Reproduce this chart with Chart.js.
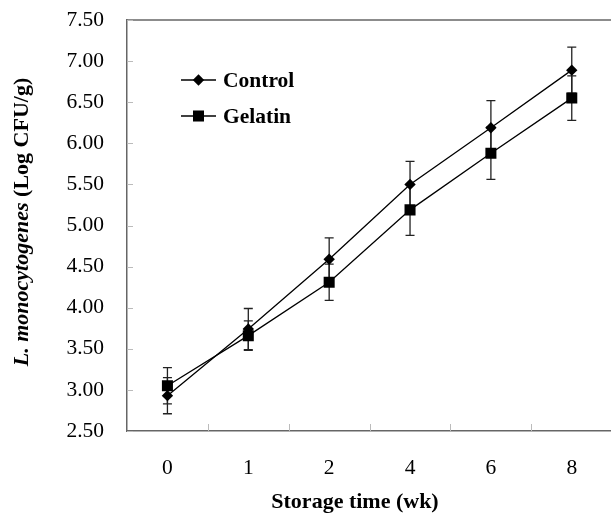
<!DOCTYPE html>
<html>
<head>
<meta charset="utf-8">
<script src="https://cdn.jsdelivr.net/npm/chart.js@4/dist/chart.umd.min.js"></script>
<style>
  html, body { margin: 0; padding: 0; background: #fff; overflow: hidden; }
  #wrap { width: 620px; height: 513px; position: relative; }
  canvas { display: block; }
</style>
</head>
<body>
<div id="wrap"><canvas id="c" width="620" height="513"></canvas></div>
<script>
const categories = ['0', '1', '2', '4', '6', '8'];
const controlValues = [2.93, 3.74, 4.59, 5.50, 6.19, 6.89];
const controlErrors = [0.22, 0.25, 0.26, 0.28, 0.33, 0.28];
const gelatinValues = [3.05, 3.66, 4.31, 5.19, 5.88, 6.55];
const gelatinErrors = [0.22, 0.18, 0.22, 0.31, 0.32, 0.27];
const yTickValues = [2.5, 3.0, 3.5, 4.0, 4.5, 5.0, 5.5, 6.0, 6.5, 7.0, 7.5];
const xTitle = 'Storage time (wk)';
const yTitleItalic = 'L. monocytogenes';
const yTitleRest = ' (Log CFU/g)';

const SERIF = '"Liberation Serif", "Times New Roman", serif';

const errorBarPlugin = {
  id: 'errorBars',
  beforeDatasetsDraw(chart) {
    const ctx = chart.ctx;
    const x = chart.scales.x, y = chart.scales.y;
    const errs = [controlErrors, gelatinErrors];
    ctx.save();
    ctx.strokeStyle = '#222';
    ctx.lineWidth = 1.3;
    chart.data.datasets.forEach((ds, di) => {
      ds.data.forEach((v, i) => {
        const px = x.getPixelForValue(i);
        const top = y.getPixelForValue(v + errs[di][i]);
        const bot = y.getPixelForValue(v - errs[di][i]);
        ctx.beginPath();
        ctx.moveTo(px, top); ctx.lineTo(px, bot);
        ctx.moveTo(px - 4.5, top); ctx.lineTo(px + 4.5, top);
        ctx.moveTo(px - 4.5, bot); ctx.lineTo(px + 4.5, bot);
        ctx.stroke();
      });
    });
    ctx.restore();
  }
};

const framePlugin = {
  id: 'frame',
  afterDraw(chart) {
    const ctx = chart.ctx;
    const a = chart.chartArea;
    const x = chart.scales.x, y = chart.scales.y;
    ctx.save();
    // top border
    ctx.strokeStyle = '#666';
    ctx.lineWidth = 1.5;
    ctx.beginPath();
    ctx.moveTo(a.left, a.top);
    ctx.lineTo(a.right + 10, a.top);
    ctx.stroke();
    // inner tick marks
    ctx.strokeStyle = '#bbb';
    ctx.lineWidth = 1;
    yTickValues.forEach(v => {
      const py = Math.round(y.getPixelForValue(v)) + 0.5;
      ctx.beginPath();
      ctx.moveTo(a.left, py); ctx.lineTo(a.left + 6, py);
      ctx.stroke();
    });
    for (let i = 0; i < categories.length - 1; i++) {
      const px = Math.round((x.getPixelForValue(i) + x.getPixelForValue(i + 1)) / 2) + 0.5;
      ctx.beginPath();
      ctx.moveTo(px, a.bottom); ctx.lineTo(px, a.bottom - 7);
      ctx.stroke();
    }
    // legend
    const items = [
      { label: 'Control', style: 'rectRot', radius: 5.7, y: 80 },
      { label: 'Gelatin', style: 'rect', radius: 7.8, y: 116 }
    ];
    items.forEach(it => {
      ctx.strokeStyle = '#000';
      ctx.lineWidth = 1.3;
      ctx.beginPath();
      ctx.moveTo(181, it.y); ctx.lineTo(216, it.y);
      ctx.stroke();
      ctx.fillStyle = '#000';
      Chart.helpers.drawPoint(ctx, { pointStyle: it.style, radius: it.radius, borderWidth: 0 }, 198.5, it.y);
      ctx.fillStyle = '#000';
      ctx.font = 'bold 21.5px ' + SERIF;
      ctx.textBaseline = 'middle';
      ctx.textAlign = 'left';
      ctx.fillText(it.label, 223, it.y + 1);
    });
    // x title
    ctx.font = 'bold 22px ' + SERIF;
    ctx.textAlign = 'center';
    ctx.textBaseline = 'middle';
    ctx.fillText(xTitle, 355, 502);
    // y title (mixed italic)
    const fI = 'italic bold 22px ' + SERIF;
    const fB = 'bold 22px ' + SERIF;
    ctx.font = fI; const w1 = ctx.measureText(yTitleItalic).width;
    ctx.font = fB; const w2 = ctx.measureText(yTitleRest).width;
    const total = w1 + w2;
    ctx.translate(22, 222);
    ctx.rotate(-Math.PI / 2);
    ctx.textAlign = 'left';
    ctx.font = fI;
    ctx.fillText(yTitleItalic, -total / 2, 0);
    ctx.font = fB;
    ctx.fillText(yTitleRest, -total / 2 + w1, 0);
    ctx.restore();
  }
};

new Chart(document.getElementById('c'), {
  type: 'line',
  data: {
    labels: categories,
    datasets: [
      {
        label: 'Control',
        data: controlValues,
        borderColor: '#000',
        backgroundColor: '#000',
        borderWidth: 1.3,
        pointStyle: 'rectRot',
        pointRadius: 5.7,
        pointBorderWidth: 0,
        pointBackgroundColor: '#000',
        tension: 0
      },
      {
        label: 'Gelatin',
        data: gelatinValues,
        borderColor: '#000',
        backgroundColor: '#000',
        borderWidth: 1.3,
        pointStyle: 'rect',
        pointRadius: 7.8,
        pointBorderWidth: 0,
        pointBackgroundColor: '#000',
        tension: 0
      }
    ]
  },
  options: {
    responsive: false,
    maintainAspectRatio: false,
    animation: false,
    layout: { padding: { top: 20, right: 4, left: 0, bottom: 0 } },
    plugins: { legend: { display: false }, tooltip: { enabled: false } },
    scales: {
      x: {
        type: 'category',
        offset: true,
        grid: { display: true, drawOnChartArea: false, drawTicks: false },
        border: { display: true, color: '#666', width: 1.5 },
        ticks: { color: '#000', font: { family: SERIF, size: 21.5 }, padding: 24, maxRotation: 0 },
        afterFit: s => { s.height = 82; s.paddingLeft = 0; s.paddingRight = 0; }
      },
      y: {
        min: 2.5,
        max: 7.5,
        grid: { display: true, drawOnChartArea: false, drawTicks: false },
        border: { display: true, color: '#666', width: 1.5 },
        ticks: {
          stepSize: 0.5,
          color: '#000',
          font: { family: SERIF, size: 21.5 },
          padding: 23,
          callback: v => Number(v).toFixed(2)
        },
        afterFit: s => { s.width = 127; s.paddingTop = 0; s.paddingBottom = 0; }
      }
    }
  },
  plugins: [errorBarPlugin, framePlugin]
});
</script>
</body>
</html>
